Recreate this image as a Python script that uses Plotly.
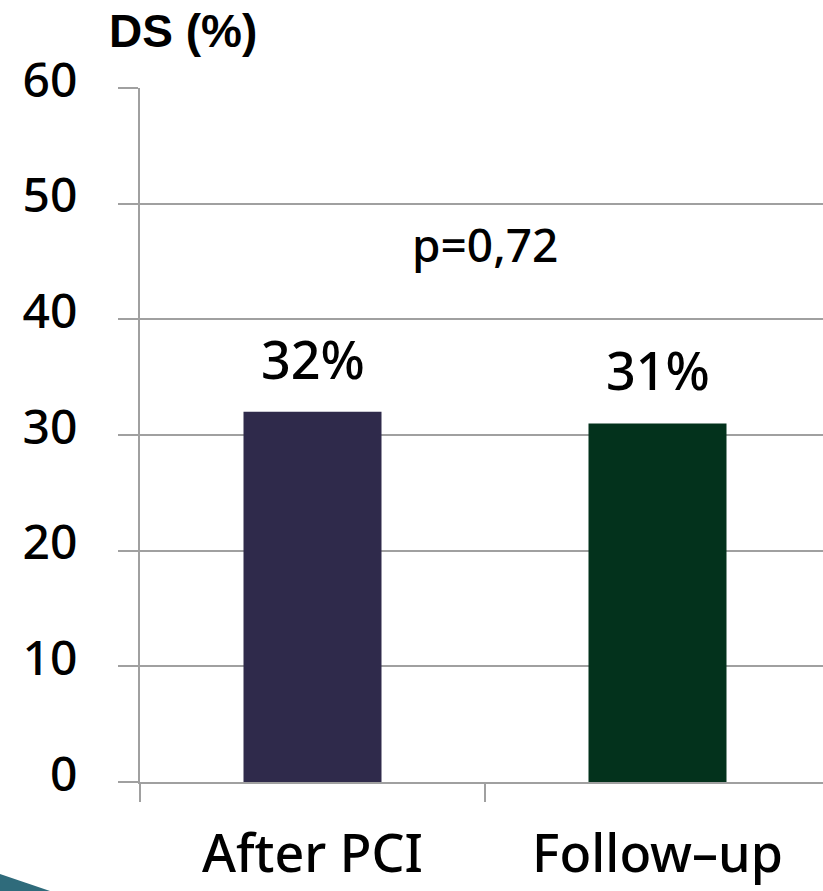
import plotly.graph_objects as go

# Diameter stenosis after PCI vs. at follow-up
categories = ["After PCI", "Follow–up"]
ds_values = [32, 31]
bar_colors = ["#2f2a4b", "#03321c"]
value_labels = ["32%", "31%"]
y_ticks = [0, 10, 20, 30, 40, 50, 60]
p_text = "p=0,72"

W, H = 823, 891
M_L, M_R, M_T, M_B = 140, 0, 88, 109
plot_w = W - M_L - M_R
plot_h = H - M_T - M_B
cat_px = 345  # pixel width of one category slot
x_right = -0.5 + plot_w / cat_px

grid = "#a0a0a0"
font_main = "Noto Sans, Open Sans, sans-serif"

x_pos = list(range(len(categories)))

fig = go.Figure()
fig.add_trace(go.Bar(
    x=x_pos,
    y=ds_values,
    width=0.4,
    marker=dict(color=bar_colors, line=dict(width=0)),
    hoverinfo="skip",
))

# value labels above each bar
for xv, yv, lbl in zip(x_pos, ds_values, value_labels):
    fig.add_annotation(
        text=lbl, x=xv, y=yv, xref="x", yref="y",
        xanchor="center", yanchor="bottom", yshift=16, showarrow=False,
        font=dict(family=font_main, size=52, color="black", weight=500),
    )

fig.update_layout(
    width=W,
    height=H,
    margin=dict(l=M_L, r=M_R, t=M_T, b=M_B, pad=0, autoexpand=False),
    paper_bgcolor="white",
    plot_bgcolor="white",
    showlegend=False,
)

fig.update_xaxes(
    range=[-0.5, x_right],
    tickmode="array",
    tickvals=x_pos,
    ticktext=categories,
    ticks="",
    ticklabelstandoff=26,
    tickfont=dict(family=font_main, size=52, color="black", weight=500),
    showgrid=False,
    showline=True,
    linecolor=grid,
    linewidth=2,
    zeroline=False,
    automargin=False,
    minor=dict(tickmode="linear", tick0=-0.5, dtick=1, ticks="outside",
               ticklen=18, tickwidth=2, tickcolor=grid, showgrid=False),
    fixedrange=True,
)

fig.update_yaxes(
    range=[0, 60],
    tickmode="array",
    tickvals=y_ticks,
    ticks="outside",
    ticklen=20,
    tickwidth=2,
    tickcolor=grid,
    ticklabelstandoff=31,
    ticklabelshift=-8,
    tickfont=dict(family=font_main, size=48, color="black", weight=500),
    showgrid=True,
    gridcolor=grid,
    gridwidth=2,
    showline=True,
    linecolor=grid,
    linewidth=2,
    zeroline=False,
    automargin=False,
    fixedrange=True,
)

# y-axis title above the axis
fig.add_annotation(
    text="<b>DS (%)</b>", xref="paper", yref="paper",
    x=(183 - M_L) / plot_w, y=1 + (88 - 31) / plot_h,
    xanchor="center", yanchor="middle", showarrow=False,
    font=dict(family="Liberation Sans, Arial, sans-serif", size=46, color="black"),
)

# p-value between the bars
fig.add_annotation(
    text=p_text, xref="x", yref="y",
    x=0.5, y=46.5, xanchor="center", yanchor="middle", showarrow=False,
    font=dict(family=font_main, size=46, color="black", weight=500),
)

# teal corner accent at the bottom-left
def px_to_paper(px, py):
    return (px - M_L) / plot_w, (H - M_B - py) / plot_h

pts = [px_to_paper(0, 874), px_to_paper(50, 891), px_to_paper(0, 891)]
path = "M " + " L ".join(f"{a},{b}" for a, b in pts) + " Z"
fig.add_shape(type="path", path=path, xref="paper", yref="paper",
              fillcolor="#2f6b7b", line=dict(width=0), layer="above")

fig.write_html("out.html")
